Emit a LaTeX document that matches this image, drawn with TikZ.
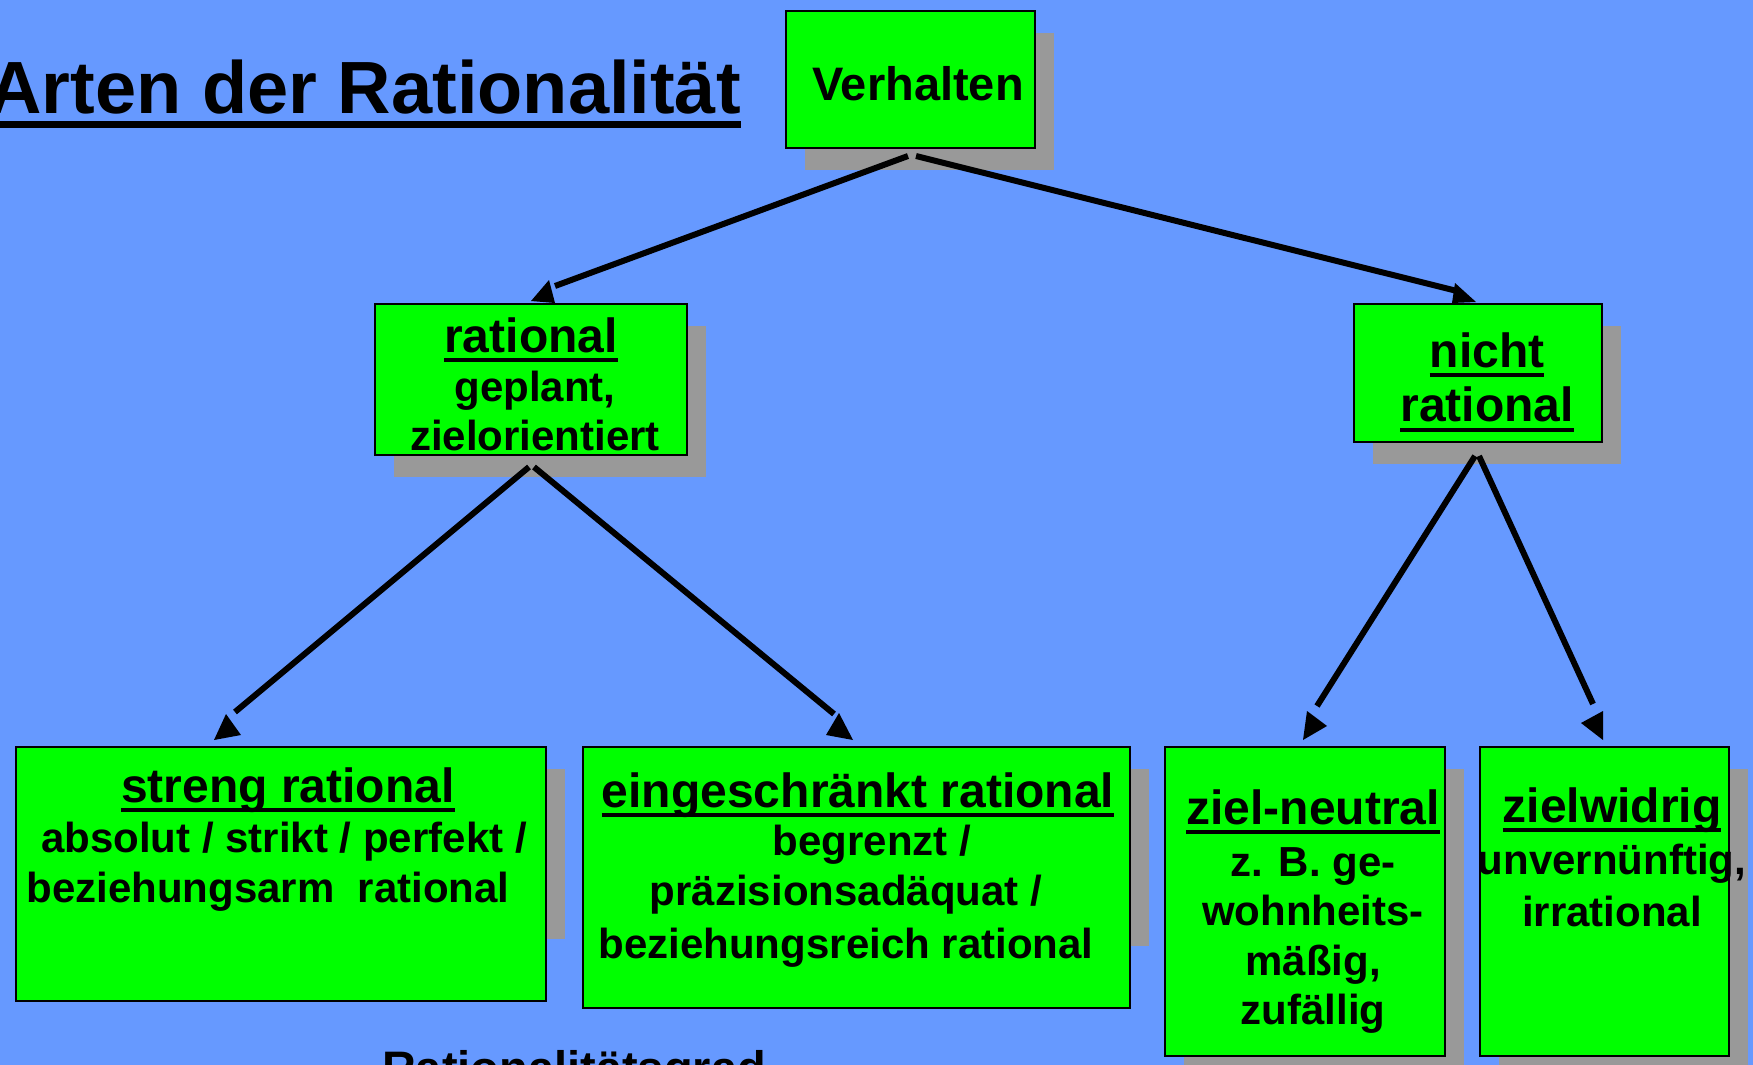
\documentclass[tikz,border=0pt]{standalone}
\usepackage{fontspec}
\setmainfont{Liberation Sans}
\definecolor{bg}{HTML}{6699FF}
\definecolor{boxgreen}{HTML}{00FF00}
\definecolor{shadowgray}{HTML}{999999}
\newcommand\hdul[1]{\setbox0\hbox{#1}\rlap{\rule[-10pt]{\wd0}{4pt}}\box0}
\newcommand\hd[1]{\hdul{\fontsize{48}{50}\selectfont #1}}
\newcommand\titleul[1]{\setbox0\hbox{#1}\rlap{\rule[-15pt]{\wd0}{6.5pt}}\box0}
\newcommand\txtstack[2]{\vtop{\baselineskip=#1\lineskiplimit=-1000pt\lineskip=0pt\halign{\hfil##\hfil\cr#2\crcr}}}
\tikzset{
  box/.style={draw=black, line width=2pt, fill=boxgreen, inner sep=0pt},
  shadowbox/.style={fill=shadowgray},
  txt/.style={anchor=base, inner sep=0pt, font=\bfseries\fontsize{42}{50}\selectfont},
  conn/.style={line width=6pt, line cap=butt, draw=black},
  tip/.style={fill=black}
}
\begin{document}
\begin{tikzpicture}[x=1pt,y=-1pt]
\useasboundingbox (0,0) rectangle (1753,1065);
\clip (0,0) rectangle (1753,1065);
\fill[bg] (0,0) rectangle (1753,1065);

% shadows
\fill[shadowbox] (805,33) rectangle (1054,170);
\fill[shadowbox] (394,326) rectangle (706,477);
\fill[shadowbox] (1373,326) rectangle (1621,464);
\fill[shadowbox] (35,769) rectangle (565,939);
\fill[shadowbox] (602,769) rectangle (1149,946);
\fill[shadowbox] (1184,769) rectangle (1464,1078);
\fill[shadowbox] (1499,769) rectangle (1748,1078);

% boxes
\node[box, minimum width=249pt, minimum height=137pt] (V) at (910.5,79.5) {};
\node[box, minimum width=312pt, minimum height=151pt] (R) at (531,379.5) {};
\node[box, minimum width=248pt, minimum height=138pt] (N) at (1478,373) {};
\node[box, minimum width=530pt, minimum height=254pt] (S) at (281,874) {};
\node[box, minimum width=547pt, minimum height=261pt] (E) at (856.5,877.5) {};
\node[box, minimum width=280pt, minimum height=309pt] (Z) at (1305,901.5) {};
\node[box, minimum width=249pt, minimum height=309pt] (W) at (1604.5,901.5) {};

% title
\node[anchor=base east, inner sep=0pt, font=\bfseries\fontsize{74}{80}\selectfont] (title) at (741,113) {\titleul{Arten der Rationalität}};

% texts
\node[txt, font=\bfseries\fontsize{47}{50}\selectfont] (tV) at (918,100) {Verhalten};
\node[txt] (tR) at (535,352) {\txtstack{49pt}{\hd{rational}\kern8pt\cr geplant,\cr zielorientiert}};
\node[txt] (tN) at (1487,367) {\txtstack{54.5pt}{\hd{nicht}\cr\hd{rational}}};
\node[txt] (tS) at (284,802) {\txtstack{50pt}{\kern8pt\hd{streng rational}\cr absolut / strikt / perfekt /\cr beziehungsarm\ \ rational\kern32pt}};
\node[txt] (tE) at (846,807) {\txtstack{50pt}{\kern24pt\hd{eingeschränkt rational}\cr\noalign{\kern-2pt}\kern52pt begrenzt /\cr präzisionsadäquat /\cr\noalign{\kern3pt}beziehungsreich rational}};
\node[txt] (tZ) at (1313,824) {\txtstack{49.5pt}{\hd{ziel-neutral}\cr\noalign{\kern2.5pt}z. B. ge-\cr wohnheits-\cr mäßig,\cr zufällig}};
\node[txt] (tW) at (1612,822) {\txtstack{52pt}{\hd{zielwidrig}\cr unvernünftig,\cr irrational}};
\node[txt, font=\bfseries\fontsize{47}{50}\selectfont] (grad) at (574,1084) {Rationalitätsgrad};

% connectors
\draw[conn] ([xshift=-2.5pt,yshift=-7pt]V.south) -- ([xshift=24pt,yshift=17pt]R.north);
\draw[conn] ([xshift=5.5pt,yshift=-7pt]V.south) -- ([xshift=-21pt,yshift=12pt]N.north);
\draw[conn] ([xshift=-2pt,yshift=-11pt]R.south) -- ([xshift=-46pt,yshift=34pt]S.north);
\draw[conn] ([xshift=3pt,yshift=-11pt]R.south) -- ([xshift=-22.5pt,yshift=32pt]E.north);
\draw[conn] ([xshift=-3pt,yshift=-13pt]N.south) -- ([xshift=12pt,yshift=40pt]Z.north);
\draw[conn] ([xshift=1pt,yshift=-13pt]N.south) -- ([xshift=-11.5pt,yshift=42pt]W.north);

% arrowheads
\fill[tip] (549,280) -- (531,301) -- (555,303) -- cycle;
\fill[tip] (1455,283) -- (1476,302) -- (1452,303) -- cycle;
\fill[tip] (226,714) -- (214,740) -- (241,735) -- cycle;
\fill[tip] (839,713) -- (826,735) -- (853,740) -- cycle;
\fill[tip] (1307,711) -- (1327,726) -- (1303,740) -- cycle;
\fill[tip] (1603,711) -- (1581,723) -- (1603,740) -- cycle;
\end{tikzpicture}
\end{document}
